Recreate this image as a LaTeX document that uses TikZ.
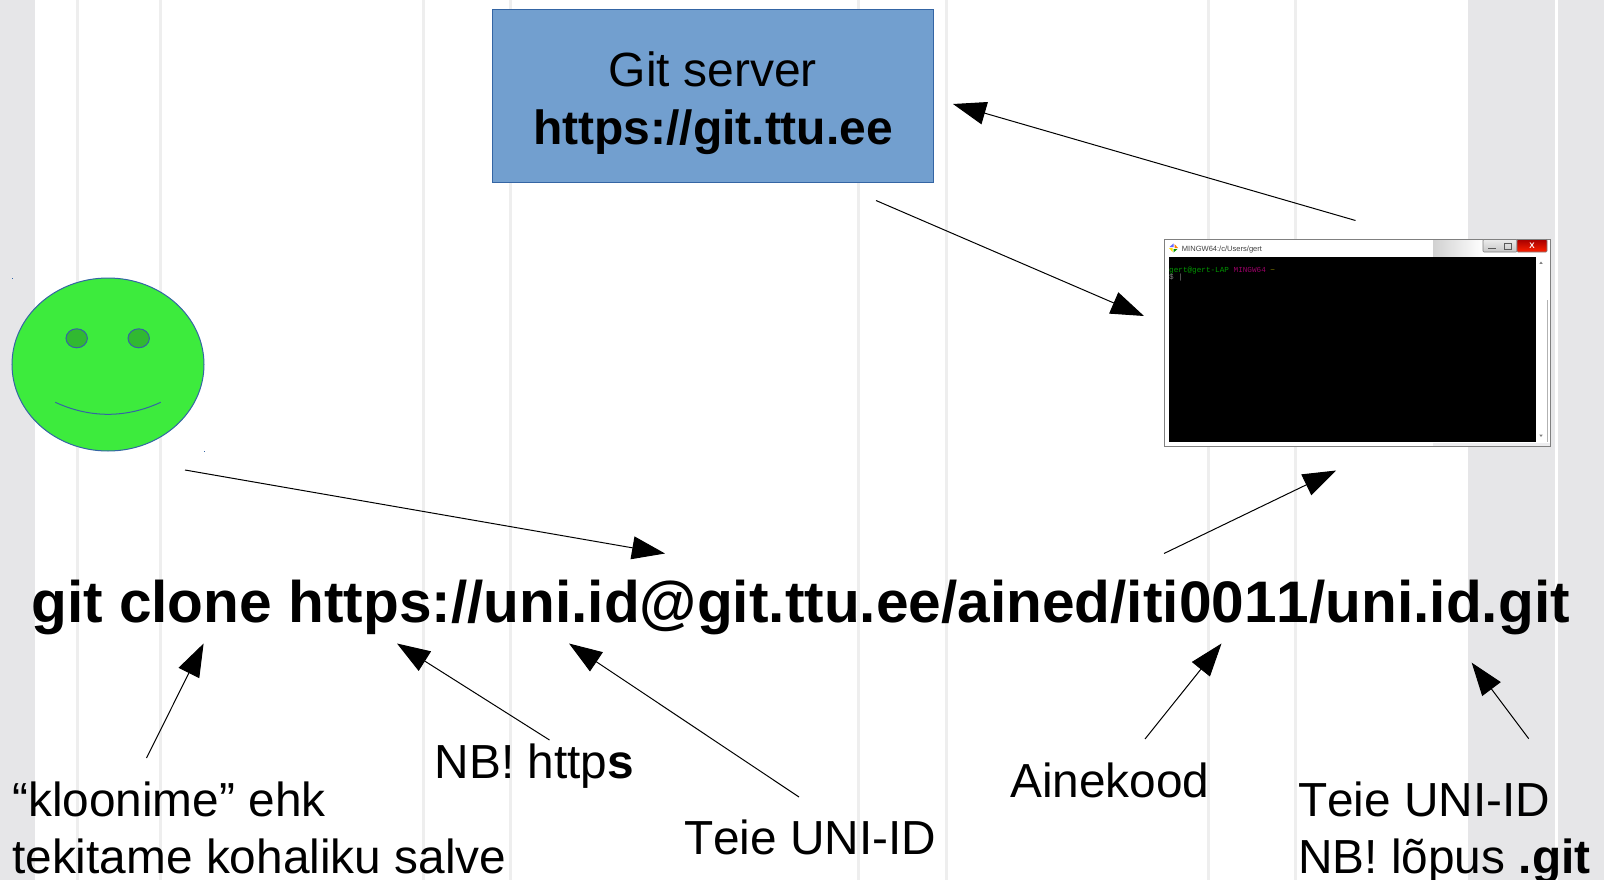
\documentclass[tikz,border=0pt]{standalone}
\usepackage{fontspec}
\setmainfont[Kerning=Off]{Liberation Sans}
\setmonofont{Liberation Mono}
\usetikzlibrary{arrows.meta,calc,shapes}
\definecolor{stripegray}{HTML}{EEEEEE}
\definecolor{bandgray}{HTML}{E6E6E8}
\definecolor{serverblue}{HTML}{729FCF}
\definecolor{edgeblue}{HTML}{3465A4}
\definecolor{facegreen}{HTML}{3DEB3D}
\definecolor{eyegreen}{HTML}{31B931}
\tikzset{
    block/.style = {draw=edgeblue, fill=serverblue, rectangle, line width=1pt, inner sep=0pt,
        minimum height=173pt,
        minimum width=441.5pt},
    blocktext/.style = {inner sep=0pt, align=center, font=\fontsize{48}{58}\selectfont},
    arrow/.style = {draw, line width=1pt, -{Triangle[length=33pt,width=23pt]}},
    label/.style = {anchor=base west, inner sep=0pt, font=\fontsize{47.8}{57}\selectfont},
    command/.style = {anchor=base west, inner sep=0pt, font=\fontsize{58.6}{60}\selectfont\bfseries},
    face/.style = {draw=edgeblue, line width=1pt},
    termtext/.style = {anchor=base west, inner sep=0pt, font=\fontsize{7.67}{8}\ttfamily}
}
\begin{document}
\begin{tikzpicture}[x=1pt,y=-1pt,>=latex]
    \useasboundingbox (0,0) rectangle (1604,880);
    \fill [bandgray] (0,0) rectangle (35,880);
    \fill [bandgray] (1468,0) rectangle (1604,880);
    \draw [white, line width=3pt] (1556,0) -- (1556,880);
    \foreach \a in {77,160,423,510,858,946,1208,1295}{
        \draw [stripegray, line width=3pt] (\a,0) -- (\a,880);
        }

    \node [block, name=server] at (713,96) {};
    \node [blocktext, name=servertext] at (713,103) {Git server\\\textbf{https://git.ttu.ee}};

    \draw [face, fill=facegreen] (108,364.5) ellipse [x radius=96, y radius=86.5];
    \foreach \a in {76.7,138.7}{
        \draw [face, fill=eyegreen] (\a,338.3) ellipse [x radius=10.7, y radius=9.5];
        }
    \draw [face] (55.3,402.3) .. controls (90,418.3) and (126,418.3) .. (160.7,402.3);
    \fill [edgeblue] (11.8,277.5) rectangle +(1,1);
    \fill [edgeblue] (203.5,450.5) rectangle +(1,1);

    \node [draw=gray, fill=white, line width=1pt, inner sep=0pt, minimum width=386pt, minimum height=207pt, name=term] at (1357.5,343) {};
    \fill [left color=black!18, right color=white] (1433,240) rectangle (1483,256.5);
    \fill [bandgray!70!white] (1433,443) rectangle (1550,446);
    \node [fill=black, inner sep=0pt, minimum width=367pt, minimum height=185pt, name=screen] at (1352.2,349.5) {};
    \draw [gray!60, line width=1pt] (1547,300) -- (1547,442);
    \node [anchor=base west, inner sep=0pt, text=black!75, font=\fontsize{7.55}{8}\selectfont, name=termtitle] at (1181.7,251) {MINGW64:/c/Users/gert};
    \foreach \a/\col in {0/orange,90/blue!60,180/yellow!80!orange,270/green!60!black}{
        \fill [\col, rotate around={\a:(1173.5,248)}] (1173.5,248) ++(1,0) -- ++(3.5,0) -- ++(-3.5,-4) -- cycle;
        }
    \draw [gray, line width=.6pt, top color=gray!15, bottom color=gray!45, rounded corners=1pt] (1483,239.5) rectangle (1517,252);
    \draw [gray, line width=.6pt, top color=red!65!black, bottom color=red!75!orange, rounded corners=1pt] (1517,239.5) rectangle (1547,252);
    \draw [gray!70!black, line width=.6pt] (1488,248.5) -- (1496,248.5);
    \draw [gray!70!black, line width=.6pt] (1504,243) rectangle (1511,249);
    \node [inner sep=0pt, text=white, font=\fontsize{8}{8}\selectfont\bfseries, name=termclose] at (1532,245.7) {X};
    \node [termtext, name=prompt] at (1169,272.5) {\textcolor{green!60!black}{gert@gert-LAP} \textcolor{violet!80!red}{MINGW64} \textcolor{olive}{\textasciitilde}};
    \node [termtext, text=gray, name=cursor] at (1169,279.5) {\$ |};
    \fill [gray] (1541,261.5) -- +(1.7,2.4) -- +(-1.7,2.4) -- cycle;
    \fill [gray] (1541,437) -- +(1.7,-2.4) -- +(-1.7,-2.4) -- cycle;

    \node [command, name=clone] at (31,622) {git clone https://uni.id@git.ttu.ee/ained/iti0011/uni.id.git};

    \node [label, name=kloon] at (12,816) {“kloonime” ehk};
    \node [label, name=salve] at (12,873) {tekitame kohaliku salve};
    \node [label, name=nbhttps] at (434.5,778.5) {NB! http\textbf{s}};
    \node [label, name=uniid] at (684,854) {Teie UNI-ID};
    \node [label, name=ainekood] at (1010,797.5) {Ainekood};
    \node [label, name=uniidend] at (1298,816) {Teie UNI-ID};
    \node [label, name=lopus] at (1298,873) {NB! lõpus \textbf{.git}};

    \coordinate (termout) at (1355.5,220.5);
    \coordinate (serverin) at (953,104);
    \coordinate (serverout) at (876,200.5);
    \coordinate (termin) at (1144,316);
    \coordinate (faceout) at (185,470);
    \coordinate (clonein) at (665,553.5);
    \coordinate (cloneout) at (1164,553.5);
    \coordinate (termbelow) at (1336,470.5);
    \coordinate (kloontail) at (146.5,758);
    \coordinate (kloonhead) at (203.6,643.5);
    \coordinate (httpstail) at (549.5,740);
    \coordinate (httpshead) at (397,643.5);
    \coordinate (uniidtail) at (799,797);
    \coordinate (uniidhead) at (569,643.5);
    \coordinate (ainetail) at (1145,739);
    \coordinate (ainehead) at (1221.5,643.5);
    \coordinate (gittail) at (1528.7,738.7);
    \coordinate (githead) at (1471.7,662.7);
    \foreach \a/\b in {termout/serverin,serverout/termin,faceout/clonein,cloneout/termbelow,kloontail/kloonhead,httpstail/httpshead,uniidtail/uniidhead,ainetail/ainehead,gittail/githead}{
        \draw [arrow] (\a) -- (\b);
        }
\end{tikzpicture}
\end{document}
